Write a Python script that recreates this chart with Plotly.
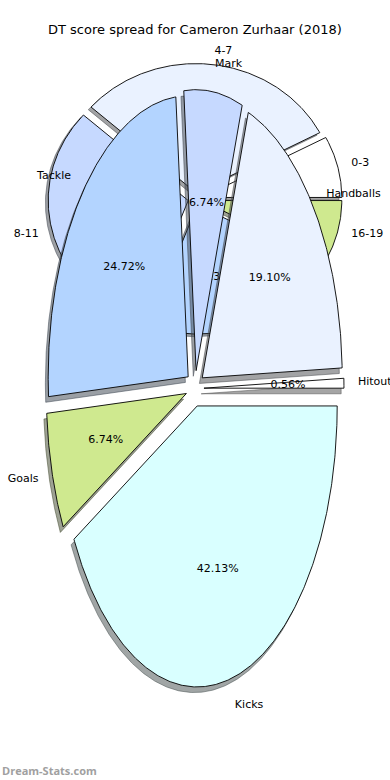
import numpy as np
import plotly.graph_objects as go

# ---------------- data ----------------
title_text = "DT score spread for Cameron Zurhaar (2018)"
score_labels = ["0-3", "4-7", "8-11", "12-15", "16-19"]
score_counts = [1, 4, 4, 3, 1]
stat_labels = ["Hitout", "Handballs", "Mark", "Tackle", "Goals", "Kicks"]
stat_points = [1, 34, 12, 44, 12, 75]
palette = ["#ffffff", "#eaf2ff", "#c6d9ff", "#b3d4ff", "#cfe98f", "#d9ffff"]
watermark = "Dream-Stats.com"

# ---------------- geometry / style ----------------
W, H = 390, 780
FONT = "DejaVu Sans"
# pixel centre and pixels-per-unit-radius of the two (elliptical) pies
SCORE_GEO = dict(cx=195.0, cy=199.0, sx=140.0, sy=129.0, explode=0.05)
STAT_GEO = dict(cx=195.0, cy=388.5, sx=140.0, sy=281.0, explode=0.064)
SHADOW_OFF = -0.02


def hex_to_rgb(h):
    h = h.lstrip("#")
    return tuple(int(h[i:i + 2], 16) for i in (0, 2, 4))


def shadow_color(h):
    r, g, b = (int(0.3 * c) for c in hex_to_rgb(h))
    return f"rgba({r},{g},{b},0.5)"


def pie_traces(values, labels, geo, xa, ya):
    total = float(sum(values))
    e = geo["explode"]
    shadows, wedges, texts = [], [], []
    t0 = 0.0
    for i, (v, lab) in enumerate(zip(values, labels)):
        t1 = t0 + 360.0 * v / total
        tm = np.radians((t0 + t1) / 2)
        ox, oy = e * np.cos(tm), e * np.sin(tm)
        n = max(int((t1 - t0) * 2), 4) + 1
        ts = np.radians(np.linspace(t0, t1, n))
        xs = np.concatenate([[ox], ox + np.cos(ts), [ox]])
        ys = np.concatenate([[oy], oy + np.sin(ts), [oy]])
        col = palette[i % len(palette)]
        shadows.append(go.Scatter(
            x=xs + SHADOW_OFF, y=ys + SHADOW_OFF, mode="lines", fill="toself",
            fillcolor=shadow_color(col), line=dict(color=shadow_color(col), width=1),
            xaxis=xa, yaxis=ya, hoverinfo="skip", showlegend=False))
        wedges.append(go.Scatter(
            x=xs, y=ys, mode="lines", fill="toself", fillcolor=col,
            line=dict(color="#000000", width=0.9),
            xaxis=xa, yaxis=ya, hoverinfo="skip", showlegend=False))
        # outer label
        xt, yt = ox + 1.1 * np.cos(tm), oy + 1.1 * np.sin(tm)
        texts.append(go.Scatter(
            x=[xt], y=[yt], mode="text", text=[lab],
            textposition="middle right" if xt > 0 else "middle left",
            textfont=dict(family=FONT, size=11, color="#000000"),
            cliponaxis=False, xaxis=xa, yaxis=ya, hoverinfo="skip", showlegend=False))
        # percentage
        xp, yp = ox + 0.6 * np.cos(tm), oy + 0.6 * np.sin(tm)
        texts.append(go.Scatter(
            x=[xp], y=[yp], mode="text", text=[f"{100 * v / total:.2f}%"],
            textposition="middle center",
            textfont=dict(family=FONT, size=11, color="#000000"),
            cliponaxis=False, xaxis=xa, yaxis=ya, hoverinfo="skip", showlegend=False))
        t0 = t1
    return shadows + wedges + texts


def axis_ranges(geo):
    xr = [-geo["cx"] / geo["sx"], (W - geo["cx"]) / geo["sx"]]
    yr = [-(H - geo["cy"]) / geo["sy"], geo["cy"] / geo["sy"]]
    return xr, yr


fig = go.Figure()
for tr in pie_traces(score_counts, score_labels, SCORE_GEO, "x", "y"):
    fig.add_trace(tr)
for tr in pie_traces(stat_points, stat_labels, STAT_GEO, "x2", "y2"):
    fig.add_trace(tr)

sxr, syr = axis_ranges(SCORE_GEO)
txr, tyr = axis_ranges(STAT_GEO)
hidden = dict(visible=False, showgrid=False, zeroline=False, fixedrange=True)

fig.update_layout(
    width=W, height=H,
    margin=dict(l=0, r=0, t=0, b=0),
    paper_bgcolor="#ffffff", plot_bgcolor="rgba(0,0,0,0)",
    showlegend=False,
    xaxis=dict(domain=[0, 1], range=sxr, anchor="y", **hidden),
    yaxis=dict(domain=[0, 1], range=syr, anchor="x", **hidden),
    xaxis2=dict(domain=[0, 1], range=txr, anchor="y2", **hidden),
    yaxis2=dict(domain=[0, 1], range=tyr, anchor="x2", **hidden),
    annotations=[
        dict(text=title_text, x=0.5, y=1 - 30 / H, xref="paper", yref="paper",
             xanchor="center", yanchor="middle", showarrow=False,
             font=dict(family=FONT, size=13, color="#000000")),
        dict(text=f"<b>{watermark}</b>", x=0, y=1 - 770 / H, xref="paper", yref="paper",
             xanchor="left", yanchor="middle", showarrow=False,
             font=dict(family="Open Sans", size=11, color="#a0a0a0")),
    ],
)

fig.write_html(
    "out.html",
    config={"displayModeBar": False},
    post_script="document.body.style.margin='0px';document.body.style.overflow='hidden';",
)
